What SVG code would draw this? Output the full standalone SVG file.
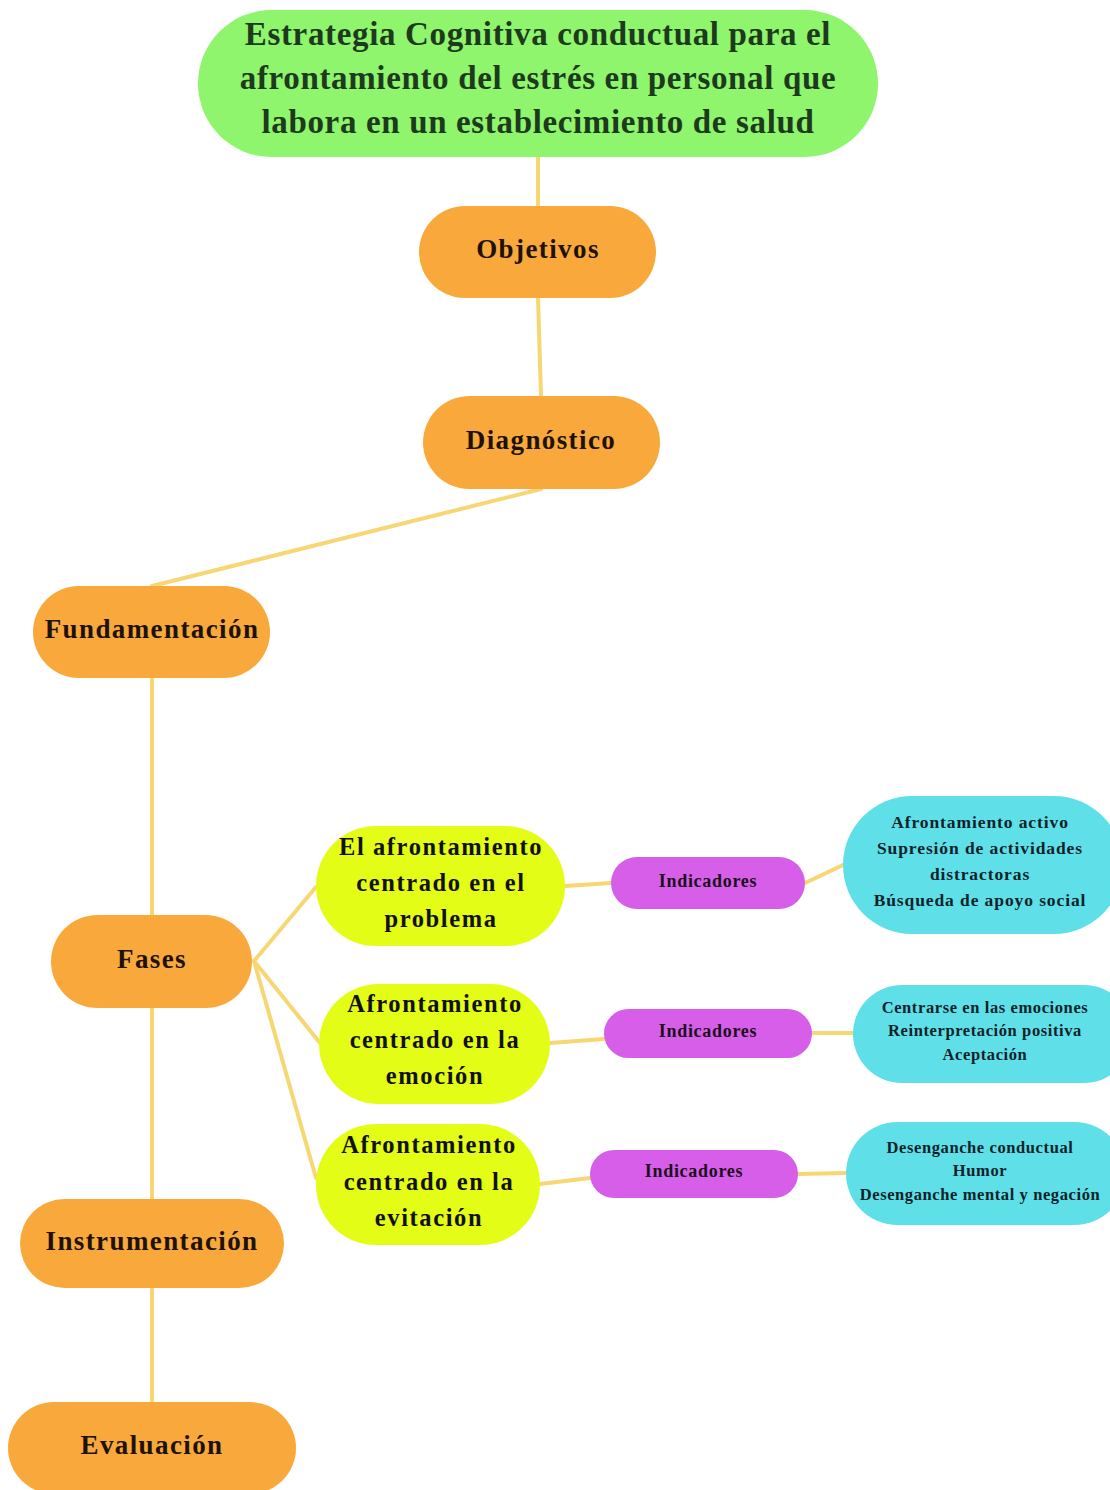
<svg xmlns="http://www.w3.org/2000/svg" width="1110" height="1490" viewBox="0 0 1110 1490">
<style>
text{font-family:"Liberation Serif","Times New Roman",serif;font-weight:bold;text-anchor:middle;dominant-baseline:central}
.conn{stroke:#f6d774;stroke-width:4;fill:none;stroke-linecap:round}
.title{fill:#8ef56c}
.title-t{font-size:33px;fill:#1d3a1d;letter-spacing:0.65px}
.org{fill:#f9a93c}
.org-t{font-size:27px;fill:#1e1208;letter-spacing:1.4px}
.yel{fill:#e3fd16}
.yel-t{font-size:24.5px;fill:#111;letter-spacing:1.6px}
.pur{fill:#d65ee8}
.pur-t{font-size:18px;fill:#1b0f1c;letter-spacing:0.7px}
.cy{fill:#5fe0e8}
.cy-t{font-size:17.5px;fill:#0e2228;letter-spacing:0.9px}
.cy-s{font-size:16.5px;fill:#0e2228;letter-spacing:0.6px}
</style>
<rect width="1110" height="1490" fill="#ffffff"/>
<g id="connectors">
<line class="conn" x1="538" y1="157" x2="538" y2="206"/>
<line class="conn" x1="538" y1="298" x2="541" y2="396"/>
<line class="conn" x1="541" y1="489" x2="152" y2="586"/>
<line class="conn" x1="152" y1="678" x2="152" y2="915"/>
<line class="conn" x1="152" y1="1008" x2="152" y2="1199"/>
<line class="conn" x1="152" y1="1288" x2="152" y2="1402"/>
<line class="conn" x1="254" y1="961" x2="316" y2="887"/>
<line class="conn" x1="254" y1="961" x2="320" y2="1043"/>
<line class="conn" x1="254" y1="961" x2="316" y2="1178"/>
<line class="conn" x1="565" y1="886" x2="611" y2="883"/>
<line class="conn" x1="550" y1="1043" x2="604" y2="1039"/>
<line class="conn" x1="540" y1="1184" x2="590" y2="1178"/>
<line class="conn" x1="805" y1="883" x2="843" y2="865"/>
<line class="conn" x1="812" y1="1033" x2="853" y2="1033"/>
<line class="conn" x1="798" y1="1174" x2="846" y2="1173"/>
</g>
<g id="title">
<rect class="title" x="198" y="10" width="680" height="147" rx="73.5"/>
<text class="title-t" x="538" y="34">Estrategia Cognitiva conductual para el</text>
<text class="title-t" x="538" y="78">afrontamiento del estrés en personal que</text>
<text class="title-t" x="538" y="122">labora en un establecimiento de salud</text>
</g>
<g id="objetivos">
<rect class="org" x="419" y="206" width="237" height="92" rx="46"/>
<text class="org-t" x="538" y="249">Objetivos</text>
</g>
<g id="diagnostico">
<rect class="org" x="423" y="396" width="237" height="93" rx="46.5"/>
<text class="org-t" x="541" y="440">Diagnóstico</text>
</g>
<g id="fundamentacion">
<rect class="org" x="33" y="586" width="237" height="92" rx="46"/>
<text class="org-t" x="152" y="629">Fundamentación</text>
</g>
<g id="fases">
<rect class="org" x="51" y="915" width="201" height="93" rx="46.5"/>
<text class="org-t" x="152" y="959">Fases</text>
</g>
<g id="instrumentacion">
<rect class="org" x="20" y="1199" width="264" height="89" rx="44.5"/>
<text class="org-t" x="152" y="1241">Instrumentación</text>
</g>
<g id="evaluacion">
<rect class="org" x="8" y="1402" width="288" height="92" rx="46"/>
<text class="org-t" x="152" y="1445">Evaluación</text>
</g>
<g id="problema">
<rect class="yel" x="316" y="826" width="249" height="120" rx="60"/>
<text class="yel-t" x="441" y="846">El afrontamiento</text>
<text class="yel-t" x="441" y="882">centrado en el</text>
<text class="yel-t" x="441" y="918">problema</text>
</g>
<g id="emocion">
<rect class="yel" x="319" y="984" width="231" height="120" rx="60"/>
<text class="yel-t" x="435" y="1003">Afrontamiento</text>
<text class="yel-t" x="435" y="1039">centrado en la</text>
<text class="yel-t" x="435" y="1075">emoción</text>
</g>
<g id="evitacion">
<rect class="yel" x="316" y="1124" width="224" height="121" rx="60"/>
<text class="yel-t" x="429" y="1144">Afrontamiento</text>
<text class="yel-t" x="429" y="1181">centrado en la</text>
<text class="yel-t" x="429" y="1217">evitación</text>
</g>
<g id="indicadores1">
<rect class="pur" x="611" y="857" width="194" height="52" rx="26"/>
<text class="pur-t" x="708" y="881">Indicadores</text>
</g>
<g id="indicadores2">
<rect class="pur" x="604" y="1009" width="208" height="49" rx="24.5"/>
<text class="pur-t" x="708" y="1031">Indicadores</text>
</g>
<g id="indicadores3">
<rect class="pur" x="590" y="1150" width="208" height="48" rx="24"/>
<text class="pur-t" x="694" y="1171">Indicadores</text>
</g>
<g id="ind-problema">
<rect class="cy" x="843" y="796" width="280" height="138" rx="69"/>
<text class="cy-t" x="980" y="822">Afrontamiento activo</text>
<text class="cy-t" x="980" y="848">Supresión de actividades</text>
<text class="cy-t" x="980" y="874">distractoras</text>
<text class="cy-t" x="980" y="900">Búsqueda de apoyo social</text>
</g>
<g id="ind-emocion">
<rect class="cy" x="853" y="985" width="280" height="98" rx="49"/>
<text class="cy-s" x="985" y="1007">Centrarse en las emociones</text>
<text class="cy-s" x="985" y="1030">Reinterpretación positiva</text>
<text class="cy-s" x="985" y="1054">Aceptación</text>
</g>
<g id="ind-evitacion">
<rect class="cy" x="846" y="1122" width="280" height="103" rx="51.5"/>
<text class="cy-s" x="980" y="1147">Desenganche conductual</text>
<text class="cy-s" x="980" y="1170">Humor</text>
<text class="cy-s" x="980" y="1194">Desenganche mental y negación</text>
</g>
</svg>
